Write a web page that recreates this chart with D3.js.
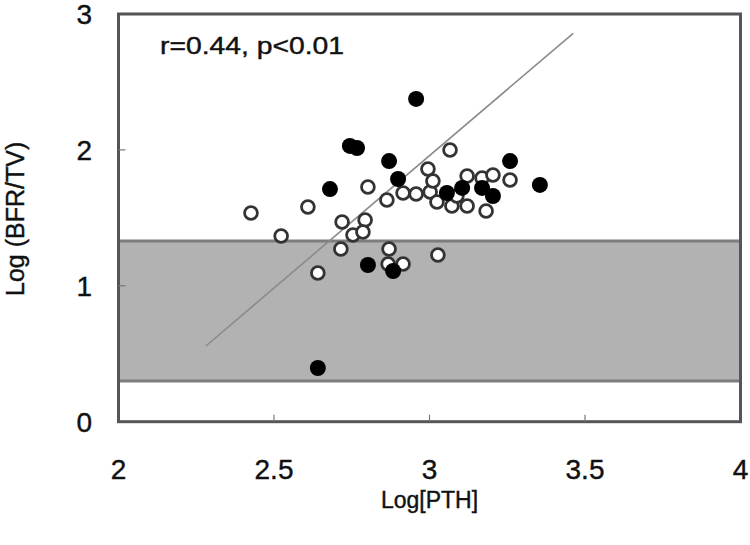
<!DOCTYPE html>
<html>
<head>
<meta charset="utf-8">
<script src="https://cdn.jsdelivr.net/npm/d3@7"></script>
<style>
  body { margin: 0; background: #fff; }
  text { font-family: Arial, "Liberation Sans", sans-serif; fill: #111; stroke: #111; stroke-width: 0.4px; }
</style>
</head>
<body>
<svg id="chart" width="750" height="545"></svg>
<script>
// Log[PTH] vs Log(BFR/TV), open circles
const openX = [2.426, 2.523, 2.609, 2.802, 2.719, 2.793, 2.754, 2.786, 2.715, 2.641,
  2.870, 2.867, 2.915, 3.027, 2.863, 2.915, 2.957, 3.002, 2.995, 3.011,
  3.066, 3.024, 3.072, 3.121, 3.088, 3.121, 3.169, 3.204, 3.259, 3.182];
const openY = [1.536, 1.366, 1.580, 1.727, 1.469, 1.484, 1.374, 1.396, 1.271, 1.094,
  1.271, 1.160, 1.160, 1.227, 1.631, 1.683, 1.675, 1.690, 1.859, 1.771,
  1.999, 1.617, 1.587, 1.587, 1.661, 1.808, 1.793, 1.815, 1.779, 1.550];

// filled circles
const filledX = [2.957, 2.744, 2.767, 2.870, 2.680, 2.899, 3.259, 3.355, 3.056, 3.105,
  3.169, 3.204, 2.802, 2.883, 2.641];
const filledY = [2.375, 2.029, 2.014, 1.918, 1.712, 1.786, 1.918, 1.742, 1.683, 1.720,
  1.720, 1.661, 1.153, 1.109, 0.395];

const xTicks = [2, 2.5, 3, 3.5, 4];
const yTicks = [0, 1, 2, 3];
const normalRange = [0.3, 1.33];
const fitX = [2.281, 3.462];
const fitY = [0.557, 2.858];
const statLabel = "r=0.44, p<0.01";

const svg = d3.select("#chart");
const plotLeft = 118.5, plotRight = 740.5, plotTop = 14, plotBottom = 421.7;

const x = d3.scaleLinear().domain([2, 4]).range([plotLeft, plotRight]);
const y = d3.scaleLinear().domain([0, 3]).range([plotBottom, plotTop]);

// shaded normal range
svg.append("rect")
  .attr("x", x(2)).attr("width", x(4) - x(2))
  .attr("y", y(normalRange[1])).attr("height", y(normalRange[0]) - y(normalRange[1]))
  .attr("fill", "#b2b2b2");
svg.selectAll("line.band")
  .data(normalRange)
  .join("line")
  .attr("class", "band")
  .attr("x1", x(2)).attr("x2", x(4))
  .attr("y1", d => y(d)).attr("y2", d => y(d))
  .attr("stroke", "#7d7d7d").attr("stroke-width", 3);

// frame
svg.append("rect")
  .attr("x", plotLeft).attr("y", plotTop)
  .attr("width", plotRight - plotLeft).attr("height", plotBottom - plotTop)
  .attr("fill", "none").attr("stroke", "#555").attr("stroke-width", 3);

// inner ticks
svg.selectAll("line.xt")
  .data(xTicks.slice(1, -1))
  .join("line").attr("class", "xt")
  .attr("x1", d => x(d)).attr("x2", d => x(d))
  .attr("y1", plotBottom).attr("y2", plotBottom - 7)
  .attr("stroke", "#777").attr("stroke-width", 1.2);
svg.selectAll("line.yt")
  .data(yTicks.slice(1, -1))
  .join("line").attr("class", "yt")
  .attr("x1", plotLeft).attr("x2", plotLeft + 7)
  .attr("y1", d => y(d)).attr("y2", d => y(d))
  .attr("stroke", "#777").attr("stroke-width", 1.2);

// tick labels
svg.selectAll("text.xl")
  .data(xTicks)
  .join("text").attr("class", "xl")
  .attr("x", d => x(d)).attr("y", 479)
  .attr("text-anchor", "middle")
  .attr("font-size", 28)
  .text(d => d);
svg.selectAll("text.yl")
  .data(yTicks)
  .join("text").attr("class", "yl")
  .attr("x", 92).attr("y", d => y(d) + 10)
  .attr("text-anchor", "end")
  .attr("font-size", 28)
  .text(d => d);

// axis titles
svg.append("text")
  .attr("x", x(3)).attr("y", 508)
  .attr("text-anchor", "middle")
  .attr("font-size", 23)
  .text("Log[PTH]");
svg.append("text")
  .attr("transform", `translate(24,${y(1.5) + 1}) rotate(-90)`)
  .attr("text-anchor", "middle")
  .attr("font-size", 25)
  .text("Log (BFR/TV)");

// regression line
svg.append("line")
  .attr("x1", x(fitX[0])).attr("y1", y(fitY[0]))
  .attr("x2", x(fitX[1])).attr("y2", y(fitY[1]))
  .attr("stroke", "#8a8a8a").attr("stroke-width", 1.6);

// points
svg.append("g")
  .selectAll("circle")
  .data(d3.zip(openX, openY))
  .join("circle")
  .attr("cx", d => x(d[0])).attr("cy", d => y(d[1]))
  .attr("r", 6.4)
  .attr("fill", "#fff").attr("stroke", "#333").attr("stroke-width", 2.8);

svg.append("g")
  .selectAll("circle")
  .data(d3.zip(filledX, filledY))
  .join("circle")
  .attr("cx", d => x(d[0])).attr("cy", d => y(d[1]))
  .attr("r", 8)
  .attr("fill", "#000");

// stats annotation
svg.append("text")
  .attr("x", 160).attr("y", 54)
  .attr("font-size", 23)
  .attr("textLength", 184)
  .attr("lengthAdjust", "spacingAndGlyphs")
  .text(statLabel);
</script>
</body>
</html>
